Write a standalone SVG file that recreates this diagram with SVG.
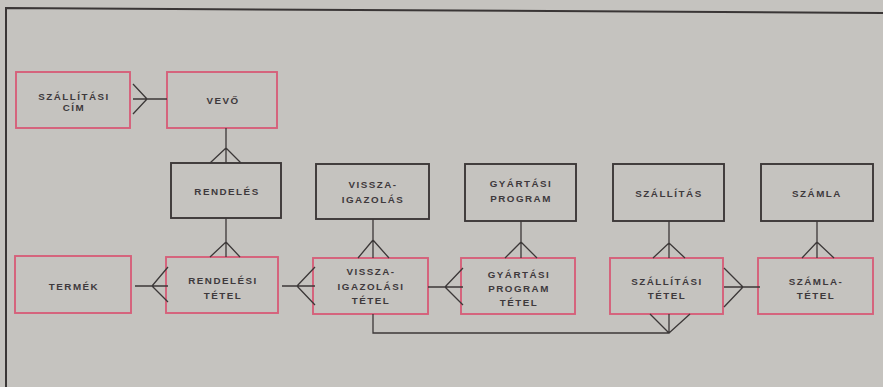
<svg xmlns="http://www.w3.org/2000/svg" width="883" height="387" viewBox="0 0 883 387">
<style>
.bg{fill:#c5c3bf}
.frame{fill:none;stroke:#3a3636;stroke-width:2}
.e{fill:none;stroke-width:1.9}
.p{stroke:#d6607a}
.k{stroke:#3c3838}
.t{font-family:"Liberation Sans",Arial,sans-serif;font-weight:bold;font-size:9.8px;letter-spacing:1.5px;fill:#3e393c;text-anchor:middle}
.c{fill:none;stroke:#3c3838;stroke-width:1.3}
</style>
<rect class="bg" x="0" y="0" width="883" height="387"/>
<path class="frame" d="M6,387 L6,8 L883,13"/>
<g id="szallitasi-cim"><rect class="e p" x="16" y="72" width="114" height="56"/><text class="t" x="74" y="100">SZÁLLÍTÁSI</text><text class="t" x="74" y="111">CÍM</text></g>
<g id="vevo"><rect class="e p" x="167" y="72" width="110" height="56"/><text class="t" x="223" y="104">VEVŐ</text></g>
<g id="rendeles"><rect class="e k" x="171" y="163" width="110" height="55"/><text class="t" x="227" y="195">RENDELÉS</text></g>
<g id="visszaigazolas"><rect class="e k" x="316" y="164" width="113" height="55"/><text class="t" x="373" y="188">VISSZA-</text><text class="t" x="373" y="203">IGAZOLÁS</text></g>
<g id="gyartasi-program"><rect class="e k" x="465" y="164" width="111" height="57"/><text class="t" x="521" y="187">GYÁRTÁSI</text><text class="t" x="521" y="202">PROGRAM</text></g>
<g id="szallitas"><rect class="e k" x="613" y="164" width="111" height="57"/><text class="t" x="669" y="197">SZÁLLÍTÁS</text></g>
<g id="szamla"><rect class="e k" x="761" y="164" width="112" height="57"/><text class="t" x="817" y="197">SZÁMLA</text></g>
<g id="termek"><rect class="e p" x="15" y="256" width="116" height="57"/><text class="t" x="74" y="290">TERMÉK</text></g>
<g id="rendelesi-tetel"><rect class="e p" x="166" y="257" width="112" height="56"/><text class="t" x="223" y="284">RENDELÉSI</text><text class="t" x="223" y="299">TÉTEL</text></g>
<g id="visszaigazolasi-tetel"><rect class="e p" x="313" y="258" width="115" height="56"/><text class="t" x="371" y="275">VISSZA-</text><text class="t" x="371" y="290">IGAZOLÁSI</text><text class="t" x="371" y="304">TÉTEL</text></g>
<g id="gyartasi-program-tetel"><rect class="e p" x="461" y="258" width="114" height="56"/><text class="t" x="519" y="278">GYÁRTÁSI</text><text class="t" x="519" y="292">PROGRAM</text><text class="t" x="519" y="306">TÉTEL</text></g>
<g id="szallitasi-tetel"><rect class="e p" x="610" y="258" width="113" height="56"/><text class="t" x="667" y="285">SZÁLLÍTÁSI</text><text class="t" x="667" y="299">TÉTEL</text></g>
<g id="szamla-tetel"><rect class="e p" x="758" y="258" width="115" height="56"/><text class="t" x="816" y="285">SZÁMLA-</text><text class="t" x="816" y="299">TÉTEL</text></g>
<g id="connectors">
<path class="c" d="M167,99 L133,99 M147,99 L133,84 M147,99 L133,114"/>
<path class="c" d="M226,128 L226,163 M226,148 L210,163 M226,148 L241,163"/>
<path class="c" d="M226,218 L226,257 M226,242 L210,257 M226,242 L240,257"/>
<path class="c" d="M373,219 L373,258 M373,240 L358,258 M373,240 L389,258"/>
<path class="c" d="M521,221 L521,258 M521,242 L505,258 M521,242 L537,258"/>
<path class="c" d="M669,221 L669,258 M669,243 L653,258 M669,243 L685,258"/>
<path class="c" d="M817,221 L817,258 M817,242 L802,258 M817,242 L834,258"/>
<path class="c" d="M135,286 L168,286 M152,286 L168,267 M152,286 L168,302"/>
<path class="c" d="M282,286 L315,286 M297,286 L315,267 M297,286 L315,305"/>
<path class="c" d="M428,287 L463,287 M445,287 L463,268 M445,287 L463,305"/>
<path class="c" d="M760,287 L724,287 M743,287 L724,268 M743,287 L724,307"/>
<path class="c" d="M373,314 L373,333 L669,333 L669,314 M669,333 L650,314 M669,333 L690,314"/>
</g>
</svg>
